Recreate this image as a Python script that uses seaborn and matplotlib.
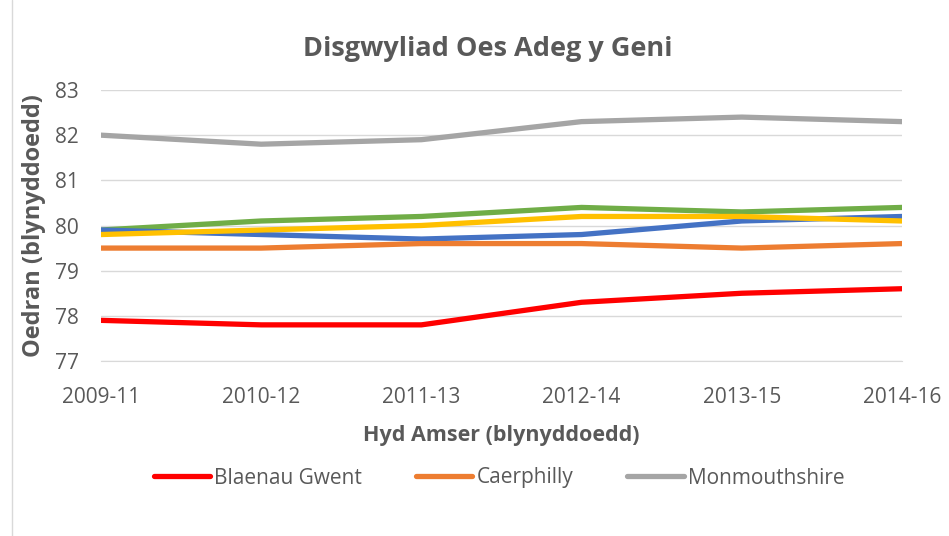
import matplotlib.pyplot as plt
import seaborn as sns
import pandas as pd

periods = ["2009-11", "2010-12", "2011-13", "2012-14", "2013-15", "2014-16"]
blaenau_gwent = [77.9, 77.8, 77.8, 78.3, 78.5, 78.6]
caerphilly = [79.5, 79.5, 79.6, 79.6, 79.5, 79.6]
monmouthshire = [82.0, 81.8, 81.9, 82.3, 82.4, 82.3]
newport = [79.8, 79.9, 80.0, 80.2, 80.2, 80.1]
torfaen = [79.9, 79.8, 79.7, 79.8, 80.1, 80.2]
wales = [79.9, 80.1, 80.2, 80.4, 80.3, 80.4]

series = {
    "Blaenau Gwent": blaenau_gwent,
    "Caerphilly": caerphilly,
    "Monmouthshire": monmouthshire,
    "Newport": newport,
    "Torfaen": torfaen,
    "Cymru": wales,
}
colors = {
    "Blaenau Gwent": "#FF0000",
    "Caerphilly": "#ED7D31",
    "Monmouthshire": "#A5A5A5",
    "Newport": "#FFC000",
    "Torfaen": "#4472C4",
    "Cymru": "#70AD47",
}

df = pd.DataFrame(
    [(p, name, v) for name, vals in series.items() for p, v in zip(periods, vals)],
    columns=["period", "area", "value"],
)
df["x"] = df["period"].map({p: i for i, p in enumerate(periods)})

sns.set_style("white")
plt.rcParams["font.family"] = ["Open Sans", "DejaVu Sans"]
txt = "#595959"

fig = plt.figure(figsize=(9.49, 5.36), dpi=100)
ax = fig.add_axes([101 / 949, 1 - 361 / 536, (902 - 101) / 949, (361 - 90) / 536])

# draw in reverse so the first series sits on top
order = list(series.keys())[::-1]
sns.lineplot(data=df, x="x", y="value", hue="area", hue_order=order,
             palette=colors, linewidth=3.8, ax=ax, legend=False, sort=False)

ax.set_xlim(0, len(periods) - 1)
ax.set_ylim(77, 83)
ax.set_xticks(range(len(periods)))
ax.set_xticklabels(periods)
ax.set_yticks(range(77, 84))
ax.yaxis.grid(True, color="#D9D9D9", linewidth=1)
ax.set_axisbelow(True)
for s in ["top", "right", "left"]:
    ax.spines[s].set_visible(False)
ax.spines["bottom"].set_color("#D9D9D9")
ax.tick_params(axis="both", colors=txt, labelsize=15, length=0)
ax.tick_params(axis="x", pad=19)
ax.tick_params(axis="y", pad=16)

ax.set_xlabel("Hyd Amser (blynyddoedd)", fontsize=15.5, fontweight="bold", color=txt, labelpad=12)
ax.set_ylabel("Oedran (blynyddoedd)", fontsize=17, fontweight="bold", color=txt, labelpad=6)
fig.text(488 / 949, 1 - 49 / 536, "Disgwyliad Oes Adeg y Geni",
         ha="center", va="center", fontsize=19.5, fontweight="bold", color=txt)

names = ["Blaenau Gwent", "Caerphilly", "Monmouthshire"]
handles = [plt.Line2D([], [], color=colors[n], linewidth=3.8) for n in names]
fig.legend(handles, names, loc="center",
           bbox_to_anchor=(499 / 949, 1 - 478 / 536), ncol=3, frameon=False,
           fontsize=15, labelcolor=txt, handlelength=2.7, handletextpad=0.2, columnspacing=2.6)

fig.add_artist(plt.Line2D([12 / 949, 12 / 949], [0, 1], color="#D9D9D9", linewidth=1))

fig.savefig("out.png", dpi=100)
